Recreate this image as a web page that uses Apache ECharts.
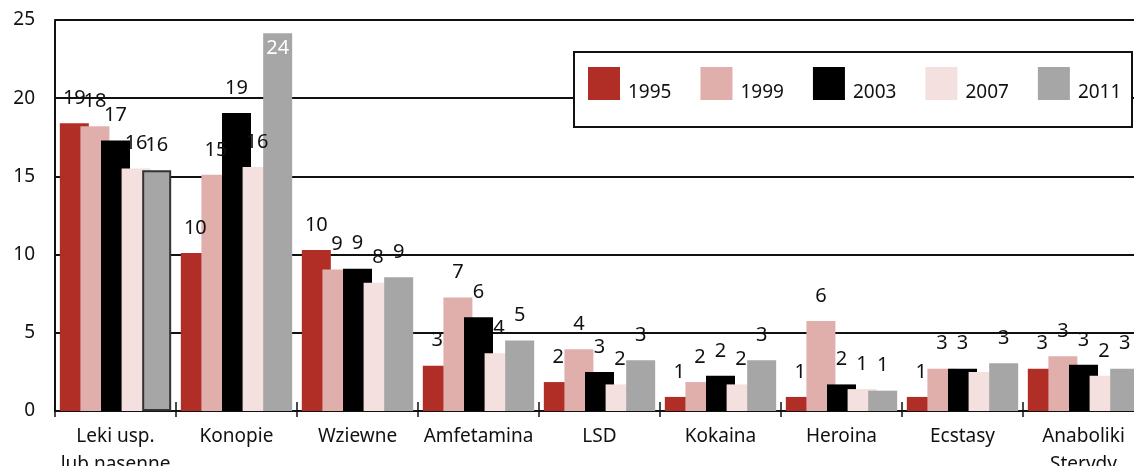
<!DOCTYPE html>
<html>
<head>
<meta charset="utf-8">
<script src="https://cdn.jsdelivr.net/npm/echarts@6/dist/echarts.min.js"></script>
<style>
  html, body { margin: 0; padding: 0; background: #fff; }
  #chart { width: 1134px; height: 466px; }
</style>
</head>
<body>
<div id="chart"></div>
<script>
// kategorie
const categories = ['Leki usp.\nlub nasenne', 'Konopie', 'Wziewne', 'Amfetamina', 'LSD', 'Kokaina', 'Heroina', 'Ecstasy', 'Anaboliki\nSterydy'];
const years = ['1995', '1999', '2003', '2007', '2011'];

// wysokości słupków
const v1995 = [18.4, 10.1, 10.3, 2.9, 1.85, 0.9, 0.9, 0.9, 2.7];
const v1999 = [18.2, 15.1, 9.05, 7.25, 3.95, 1.85, 5.75, 2.7, 3.5];
const v2003 = [17.3, 19.05, 9.1, 6.0, 2.5, 2.25, 1.7, 2.7, 2.95];
const v2007 = [15.5, 15.6, 8.2, 3.7, 1.7, 1.7, 1.4, 2.5, 2.25];
const v2011 = [15.4, 24.15, 8.55, 4.5, 3.25, 3.25, 1.3, 3.05, 2.7];

// etykiety nad słupkami (tak jak na oryginale)
const l1995 = [19, 10, 10, 3, 2, 1, 1, 1, 3];
const l1999 = [18, 15, 9, 7, 4, 2, 6, 3, 3];
const l2003 = [17, 19, 9, 6, 3, 2, 2, 3, 3];
const l2007 = [16, 16, 8, 4, 2, 2, 1, null, 2];
const l2011 = [16, 24, 9, 5, 3, 3, 1, 3, 3];

const yTicks = [0, 5, 10, 15, 20, 25];

const values = [v1995, v1999, v2003, v2007, v2011];
const labels = [l1995, l1999, l2003, l2007, l2011];
const colors = ['#B02E25', '#E0AFAC', '#000000', '#F4E0DF', '#A6A6A7'];

const FONT = 'Noto Sans';

const series = years.map((y, i) => ({
  name: y,
  type: 'bar',
  barWidth: 29,
  barGap: '-29%',
  itemStyle: { color: colors[i] },
  data: values[i].map((v, j) => {
    const item = { value: v };
    // szary słupek "Leki" ma obramowanie
    if (i === 4 && j === 0) {
      item.itemStyle = { borderColor: '#333', borderWidth: 2 };
    }
    // 24 wpisane w słupek (wychodzi poza skalę)
    if (i === 4 && j === 1) {
      item.label = { position: 'insideTop', distance: 5, color: '#fff' };
    }
    return item;
  }),
  label: {
    show: true,
    position: 'top',
    distance: 15,
    fontFamily: FONT,
    fontSize: 20,
    color: '#111',
    formatter: (p) => (labels[i][p.dataIndex] == null ? '' : String(labels[i][p.dataIndex]))
  }
}));

const chart = echarts.init(document.getElementById('chart'));
chart.setOption({
  animation: false,
  textStyle: { fontFamily: FONT },
  grid: { left: 55, top: 20, right: -10, bottom: 55, outerBoundsMode: 'none' },
  legend: {
    data: years,
    left: 583,
    top: 62,
    width: 560,
    itemWidth: 32,
    itemHeight: 33,
    itemGap: 29,
    icon: 'rect',
    z: 10,
    formatter: '{t|{name}}',
    textStyle: {
      fontFamily: FONT, fontSize: 19, color: '#111',
      rich: { t: { fontFamily: FONT, fontSize: 19, color: '#111', padding: [18, 0, 0, 3] } }
    }
  },
  graphic: [{
    type: 'rect',
    z: 5,
    shape: { x: 574, y: 52, width: 558, height: 75 },
    style: { fill: '#fff', stroke: '#111', lineWidth: 2 }
  }],
  xAxis: [{
    type: 'category',
    data: categories,
    axisLine: { lineStyle: { color: '#111', width: 2 } },
    axisTick: { show: true, length: 6, lineStyle: { color: '#111', width: 1.5 } },
    axisLabel: { interval: 0, fontFamily: FONT, fontSize: 19, color: '#111', margin: 12, lineHeight: 28 }
  }, {
    type: 'category',
    data: categories,
    position: 'bottom',
    axisLine: { show: false },
    axisTick: { show: true, inside: true, length: 9, lineStyle: { color: '#111', width: 1.5 } },
    axisLabel: { show: false }
  }],
  yAxis: {
    type: 'value',
    min: yTicks[0],
    max: yTicks[yTicks.length - 1],
    interval: 5,
    axisLine: { show: true, lineStyle: { color: '#111', width: 2 } },
    axisTick: { show: false },
    axisLabel: { fontFamily: FONT, fontSize: 19, color: '#111', margin: 20 },
    splitLine: { lineStyle: { color: '#111', width: 2 } }
  },
  series: series
});
</script>
</body>
</html>
